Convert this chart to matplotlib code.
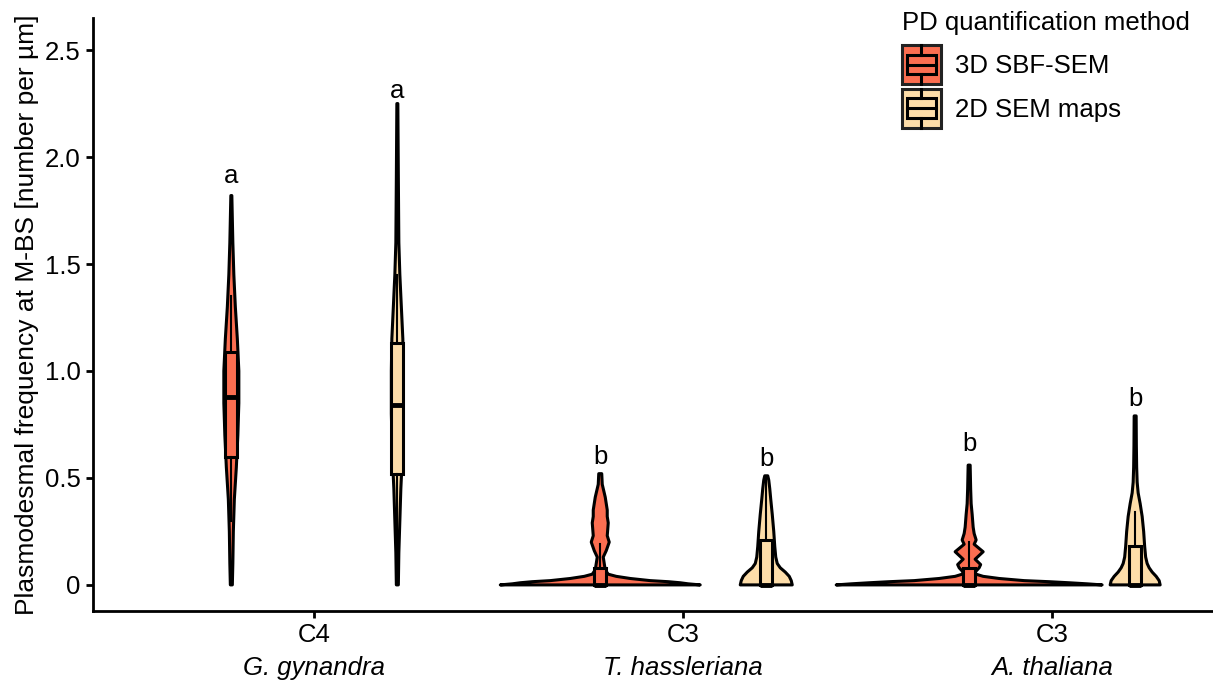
import numpy as np
import matplotlib
matplotlib.use('Agg')
import matplotlib.pyplot as plt
from matplotlib.patches import Rectangle
from matplotlib.lines import Line2D
from matplotlib.legend_handler import HandlerBase

plt.rcParams['font.family'] = ['Liberation Sans', 'DejaVu Sans']

# categories
groups = ['C4', 'C3', 'C3']
species = ['G. gynandra', 'T. hassleriana', 'A. thaliana']
methods = ['3D SBF-SEM', '2D SEM maps']
colors = ['#FB6E51', '#FDDDA9']

# violin outlines, order: (G.g 3D, G.g 2D, T.h 3D, T.h 2D, A.t 3D, A.t 2D)
# values (number per um) and relative density (half width)
v_levels = [
    [0, 0.1, 0.25, 0.4, 0.55, 0.7, 0.85, 1.0, 1.15, 1.3, 1.45, 1.6, 1.82],
    [0, 0.15, 0.3, 0.45, 0.6, 0.8, 1.0, 1.15, 1.3, 1.45, 1.6, 1.9, 2.25],
    [0, 0.005, 0.01, 0.015, 0.02, 0.03, 0.04, 0.05, 0.07, 0.1, 0.13, 0.16, 0.2, 0.23,
     0.26, 0.29, 0.32, 0.35, 0.38, 0.41, 0.44, 0.47, 0.52],
    [0, 0.02, 0.04, 0.06, 0.08, 0.1, 0.13, 0.18, 0.25, 0.33, 0.4, 0.45, 0.49, 0.51],
    [0, 0.005, 0.01, 0.015, 0.02, 0.03, 0.04, 0.05, 0.06, 0.08, 0.095, 0.12, 0.155,
     0.19, 0.21, 0.24, 0.27, 0.33, 0.38, 0.45, 0.56],
    [0, 0.02, 0.04, 0.06, 0.08, 0.1, 0.13, 0.18, 0.25, 0.32, 0.38, 0.43, 0.48, 0.55,
     0.65, 0.79],
]
v_density = [
    [1, 1.5, 2, 3, 5, 6.5, 7.5, 7.5, 6, 4, 2.5, 1.5, 0.5],
    [1, 1.5, 2.5, 3.5, 5, 6, 6, 5.5, 4, 2.5, 1.5, 1, 0.5],
    [100, 88, 80, 68, 50, 30, 16, 8, 5, 4, 3, 6, 9, 7, 7.5, 8, 7, 7, 6, 5, 3.5, 2, 1.5],
    [26, 25, 23, 19, 14, 11, 9.5, 8.5, 7.5, 6, 4.5, 3.5, 2.5, 1.5],
    [133, 118, 100, 80, 55, 30, 14, 7, 6, 10, 11.5, 6, 14, 5, 7, 5, 4, 3, 2, 1.5, 1],
    [25, 24, 21, 17, 14, 12, 10.5, 9.5, 8.5, 7, 5, 3, 2, 1.5, 1.2, 1],
]
density_scale = 1 / 369

# boxplot stats
q1 = [0.60, 0.52, 0.0, 0.0, 0.0, 0.0]
med = [0.88, 0.84, 0.0, 0.0, 0.0, 0.0]
q3 = [1.09, 1.13, 0.08, 0.21, 0.08, 0.18]
whislo = [0.30, 0.15, 0.0, 0.0, 0.0, 0.0]
whishi = [1.35, 1.45, 0.19, 0.50, 0.20, 0.34]

# significance letters
letters = ['a', 'a', 'b', 'b', 'b', 'b']
letter_y = [1.91, 2.31, 0.60, 0.59, 0.66, 0.87]

FS = 18.5


class BoxKey(HandlerBase):
    def create_artists(self, legend, orig_handle, xdescent, ydescent,
                       width, height, fontsize, trans):
        fc = orig_handle.get_facecolor()
        x0, y0 = -xdescent, -ydescent
        bg = Rectangle((x0, y0), width, height, fc=fc, ec='#222222', lw=2.2, transform=trans)
        box = Rectangle((x0 + 0.12 * width, y0 + 0.25 * height), 0.76 * width, 0.5 * height,
                        fc=fc, ec='black', lw=2.2, transform=trans)
        md = Line2D([x0 + 0.12 * width, x0 + 0.88 * width], [y0 + 0.5 * height] * 2,
                    color='black', lw=2.2, transform=trans)
        w1 = Line2D([x0 + 0.5 * width] * 2, [y0, y0 + 0.25 * height], color='black', lw=2.2, transform=trans)
        w2 = Line2D([x0 + 0.5 * width] * 2, [y0 + 0.75 * height, y0 + height], color='black', lw=2.2, transform=trans)
        return [bg, box, md, w1, w2]


fig = plt.figure(figsize=(12.13, 6.85), dpi=100)
ax = fig.add_axes([93 / 1213, 74 / 685, 1 - 93 / 1213, (611 - 18) / 685])

dodge = 0.225
for i in range(6):
    g, m = divmod(i, 2)
    pos = g + 1 + (dodge if m else -dodge)
    y = np.array(v_levels[i])
    w = np.array(v_density[i]) * density_scale
    xs = np.concatenate([pos - w, (pos + w)[::-1]])
    ys = np.concatenate([y, y[::-1]])
    ax.fill(xs, ys, fc=colors[m], ec='black', lw=2.2, joinstyle='round', zorder=2)
    stats = [dict(med=med[i], q1=q1[i], q3=q3[i], whislo=whislo[i], whishi=whishi[i])]
    ax.bxp(stats, positions=[pos], widths=0.032, patch_artist=True, showfliers=False,
           showcaps=False, manage_ticks=False, zorder=3,
           boxprops=dict(facecolor=colors[m], edgecolor='black', lw=2.2),
           medianprops=dict(color='black', lw=3.5, solid_capstyle='butt'),
           whiskerprops=dict(color='black', lw=1.5))
    ax.text(pos, letter_y[i], letters[i], ha='center', va='center', fontsize=FS)

ax.set_xlim(0.4, 3.436)
ax.set_ylim(-0.122, 2.65)
ax.set_xticks([1, 2, 3])
ax.set_xticklabels(groups)
ax.set_yticks([0, 0.5, 1.0, 1.5, 2.0, 2.5])
ax.set_yticklabels(['0', '0.5', '1.0', '1.5', '2.0', '2.5'])
ax.tick_params(labelsize=FS, width=2, length=5, color='black', pad=4)
for s in ['top', 'right']:
    ax.spines[s].set_visible(False)
for s in ['left', 'bottom']:
    ax.spines[s].set_linewidth(2)

for g in range(3):
    ax.annotate(species[g], xy=(g + 1, 0), xycoords=('data', 'axes fraction'),
                xytext=(0, -41), textcoords='offset points', ha='center', va='center',
                fontsize=FS, style='italic')

ax.set_ylabel('Plasmodesmal frequency at M-BS [number per µm]', fontsize=19, labelpad=4)

handles = [Rectangle((0, 0), 1, 1, fc=c) for c in colors]
leg = fig.legend(handles, methods, title='PD quantification method', loc='upper left',
                 bbox_to_anchor=(902 / 1213, 1 - 11 / 685), frameon=False, fontsize=FS,
                 title_fontsize=FS, alignment='left', handler_map={Rectangle: BoxKey()},
                 handlelength=1.5, handleheight=2.0, handletextpad=0.55, labelspacing=0.16,
                 borderpad=0, borderaxespad=0)
leg._legend_box.sep = 7

fig.savefig('out.png', dpi=100)
